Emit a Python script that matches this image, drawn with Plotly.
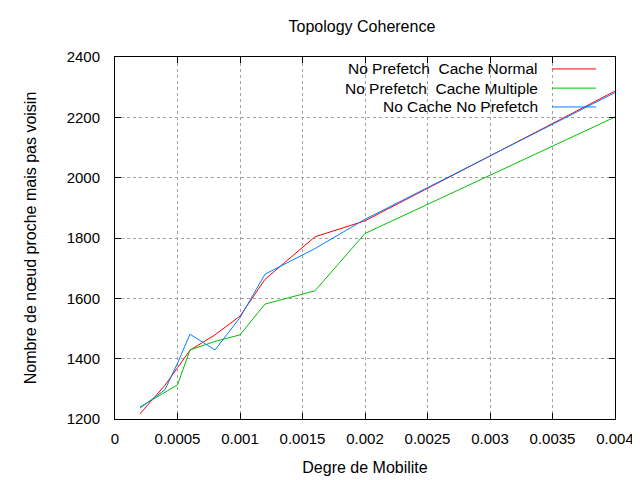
import plotly.graph_objects as go

# degre de mobilite
mobilite = [0.0002, 0.0004, 0.0005, 0.0006, 0.0008, 0.001, 0.0012, 0.0016, 0.002, 0.004]

# nombre de noeuds proches mais pas voisins
cache_normal = [1217, 1312, 1370, 1428, 1479, 1541, 1663, 1804, 1857, 2287]
cache_multiple = [1240, 1290, 1313, 1429, 1457, 1479, 1581, 1625, 1815, 2201]
no_cache = [1236, 1297, 1385, 1481, 1429, 1536, 1680, 1765, 1862, 2282]

series_names = ["No Prefetch  Cache Normal", "No Prefetch  Cache Multiple", "No Cache No Prefetch"]
series_colors = ["#ff0000", "#00c000", "#0080ff"]

x_ticks = [0, 0.0005, 0.001, 0.0015, 0.002, 0.0025, 0.003, 0.0035, 0.004]
x_labels = ["0", "0.0005", "0.001", "0.0015", "0.002", "0.0025", "0.003", "0.0035", "0.004"]
y_ticks = [1200, 1400, 1600, 1800, 2000, 2200, 2400]

fig = go.Figure()

for vals, name, col in zip([cache_normal, cache_multiple, no_cache], series_names, series_colors):
    fig.add_trace(go.Scatter(x=mobilite, y=vals, name=name, mode="lines",
                             line=dict(color=col, width=1)))

# legende facon gnuplot : texte aligne a droite, echantillon a droite
leg_y = [0.967, 0.914, 0.862]
for name, col, yy in zip(series_names, series_colors, leg_y):
    fig.add_annotation(x=0.849, y=yy, xref="paper", yref="paper", text=name,
                       showarrow=False, xanchor="right", yanchor="middle",
                       font=dict(size=15.5, color="black"))
    fig.add_shape(type="line", xref="paper", yref="paper", x0=0.874, x1=0.962,
                  y0=yy, y1=yy, line=dict(color=col, width=1))

axis_common = dict(showline=True, linecolor="black", linewidth=1, mirror="ticks",
                   ticks="inside", ticklen=6, tickcolor="black",
                   showgrid=True, gridcolor="#a0a0a0", griddash="dot", gridwidth=1,
                   zeroline=False, tickfont=dict(size=15, color="black"))

fig.update_xaxes(range=[0, 0.004], tickvals=x_ticks, ticktext=x_labels, ticklabelstandoff=6,
                 title=dict(text="Degre de Mobilite", font=dict(size=16, color="black"), standoff=15),
                 **axis_common)
fig.update_yaxes(range=[1200, 2400], tickvals=y_ticks, ticklabelstandoff=11,
                 title=dict(text="Nombre de nœud proche mais pas voisin", font=dict(size=16, color="black"), standoff=26),
                 **axis_common)

# la page ajoute une marge de 8 px : marges compensees
fig.update_layout(
    width=640, height=480,
    title=dict(text="Topology Coherence", x=0.553, xanchor="center", y=0.9625, yanchor="middle",
               font=dict(size=16, color="black")),
    font=dict(family="Liberation Sans, Arial, sans-serif", color="black"),
    showlegend=False,
    plot_bgcolor="white", paper_bgcolor="white",
    margin=dict(l=107, r=33, t=49, b=69),
)

fig.write_html("out.html")
